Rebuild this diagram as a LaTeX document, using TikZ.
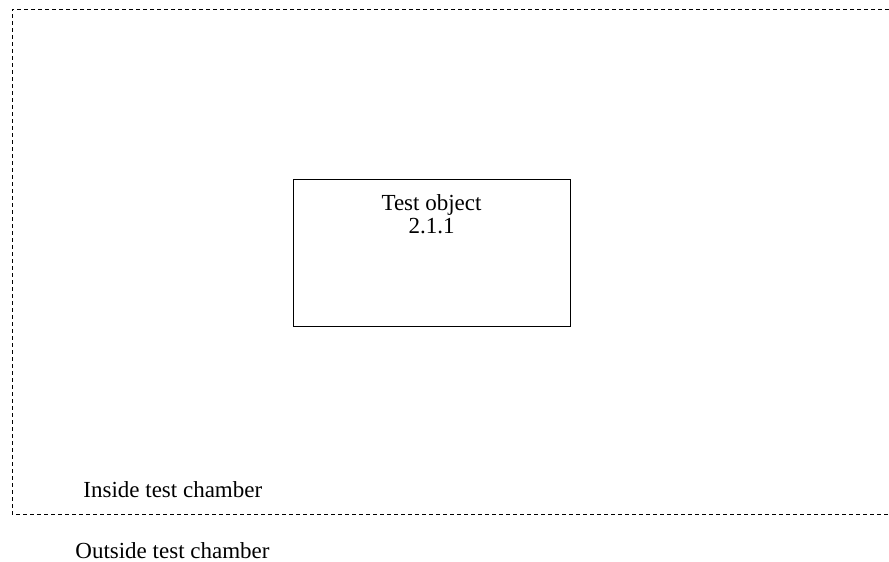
\documentclass[tikz,border=0pt]{standalone}
\usepackage{fontspec}
\setmainfont{Liberation Serif}
\begin{document}
\begin{tikzpicture}[x=0.5pt,y=-0.5pt,
  lbl/.style={inner sep=0pt,font=\fontsize{11.5pt}{13.8pt}\selectfont},
  chamber/.style={draw=black,line width=0.5pt,dash pattern=on 2pt off 1.5pt},
  objbox/.style={draw=black,line width=0.5pt,minimum width=138.5pt,minimum height=73.5pt,inner sep=0pt}]
\useasboundingbox (0,0) rectangle (889,562);
\coordinate (tr) at (889,9);
\coordinate (tl) at (12,9);
\coordinate (bl) at (12,514);
\coordinate (br) at (889,514);
\draw[chamber] (tr) -- (tl) -- (bl) -- (br);
\node[objbox] (obj) at (431.5,252.5) {};
\node[lbl,anchor=base] (t1) at (431.5,210) {Test object};
\node[lbl,anchor=base] (t2) at (431.5,233) {2.1.1};
\node[lbl,anchor=base west] (inside) at (83,497) {Inside test chamber};
\node[lbl,anchor=base west] (outside) at (75,558) {Outside test chamber};
\end{tikzpicture}
\end{document}
